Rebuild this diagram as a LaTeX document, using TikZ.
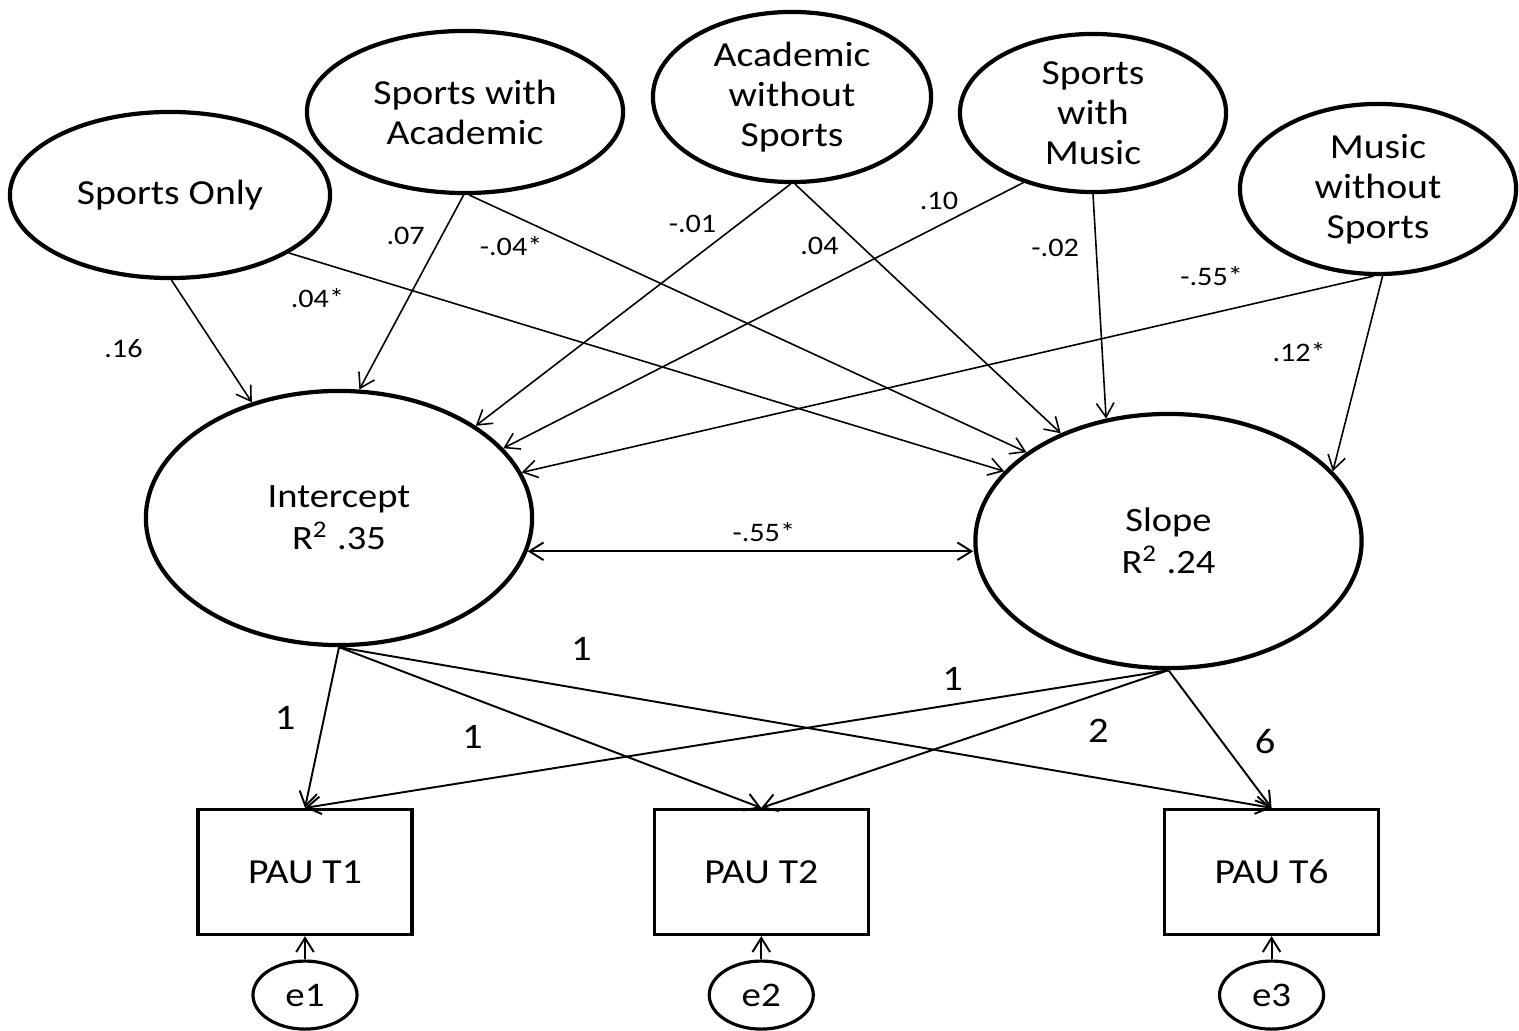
\documentclass[tikz,border=0pt]{standalone}
\usepackage{fontspec}
\setmainfont{Carlito}[FakeStretch=1.13]
\usetikzlibrary{shapes,arrows,arrows.meta,positioning,backgrounds}
\tikzset{%
	latentnode/.style={ellipse, draw, line width=1.2pt, inner sep=0pt, align=center, font=\fontsize{10}{11.4}\selectfont},
	growthnode/.style={ellipse, draw, line width=1.2pt, inner sep=0pt, align=center, minimum width=3.86cm, minimum height=2.54cm, font=\fontsize{9.7}{12}\selectfont},
	observednode/.style={rectangle, draw, line width=.9pt, minimum width=2.14cm, minimum height=1.25cm, font=\fontsize{10}{11.6}\selectfont},
	errornode/.style={ellipse, draw, line width=.9pt, inner sep=0pt, minimum width=1.04cm, minimum height=0.68cm, font=\fontsize{9.8}{11}\selectfont},
	toregress/.style={draw, line width=.45pt,->,>={Straight Barb[length=4pt,width=5pt]}},
	toload/.style={draw, line width=.55pt,->,>={Straight Barb[length=4pt,width=5pt]}},
	tocov/.style={draw, line width=.55pt,<->,>={Straight Barb[length=4pt,width=5pt]}},
	smalllabel/.style={font=\fontsize{7.6}{9}\selectfont},
	covlabel/.style={font=\fontsize{7.6}{9}\selectfont},
	loadlabel/.style={font=\fontsize{10.2}{12}\selectfont}}

\begin{document}
\begin{tikzpicture}[x=0.01cm, y=-0.01cm]
		\useasboundingbox (0,0) rectangle (1519,1031);
		\node[latentnode, minimum width=3.20cm, minimum height=1.66cm] (SO) at (170,195) {Sports Only};
		\node[latentnode, minimum width=3.16cm, minimum height=1.62cm] (SWA) at (465,112) {Sports with\\Academic};
		\node[latentnode, minimum width=2.78cm, minimum height=1.70cm] (AWS) at (792,97) {Academic\\without\\Sports};
		\node[latentnode, minimum width=2.66cm, minimum height=1.58cm] (SWM) at (1093,113) {Sports\\with\\Music};
		\node[latentnode, minimum width=2.76cm, minimum height=1.70cm] (MWS) at (1378,189) {Music\\without\\Sports};
		\node[growthnode] (INT) at (339,518) {Intercept\\ R\textsuperscript{2} .35};
		\node[growthnode] (SLP) [right of=INT, node distance=8.29cm, yshift=-0.23cm] {Slope\\ R\textsuperscript{2} .24};
		\node[observednode] (T1) at (305,872) {PAU T1};
		\node[observednode] (T2) [right of=T1, node distance=4.56cm] {PAU T2};
		\node[observednode] (T6) [right of=T2, node distance=5.10cm] {PAU T6};
		\node[errornode] (E1) [below of=T1, node distance=1.23cm] {e1};
		\node[errornode] (E2) [below of=T2, node distance=1.23cm] {e2};
		\node[errornode] (E3) [below of=T6, node distance=1.23cm] {e3};
		
		\path[toregress] (SO.-89) 	-- node[smalllabel, pos=.56, xshift=-0.93cm] 	{.16} (INT.127);
		\path[toregress] (SO.-26) 	-- node[smalllabel, pos=.04, yshift=-0.36cm] 	{.04*} (SLP.157);
		\path[toregress] (SWA.-91) 	-- node[smalllabel, pos=.21, xshift=-0.36cm] 	{.07} (INT.81);
		\path[toregress] (SWA.-87) 	-- node[smalllabel, pos=.075, yshift=-0.32cm] 	{-.04*} (SLP.148);
		\path[toregress] (AWS.-91) 	-- node[smalllabel, pos=.165, xshift=-0.46cm] 	{-.01} (INT.34);
		\path[toregress] (AWS.-88) 	-- node[smalllabel, pos=.25, xshift=-0.42cm] 	{.04} (SLP.135);
		\path[toregress] (SWM.-135) 	-- node[smalllabel, pos=.07, xshift=-0.48cm] 	{.10} (INT.23);
		\path[toregress] (SWM.-90) 	-- node[smalllabel, pos=.24, xshift=-0.41cm] 	{-.02} (SLP.117);
		\path[toregress] (MWS.-93) 	-- node[smalllabel, pos=.19, yshift=0.37cm] 	{-.55*} (INT.14);
		\path[toregress] (MWS.-87) 	-- node[smalllabel, pos=.39, xshift=-0.64cm] 	{.12*} (SLP.23);
		
		\path[tocov] (INT.-10) 	-- node[covlabel, pos=.53, yshift=0.19cm] 	{-.55*} (INT.-10 -| SLP.west);
		
		\path[toload] (INT.south) 	-- node[loadlabel, pos=.44, xshift=-0.39cm] 	{1} (T1.north);
		\path[toload] (INT.south) 	-- node[loadlabel, pos=.56, xshift=-1.03cm] 	{1} (T2.north);
		\path[toload] (INT.south) 	-- node[loadlabel, pos=.26, yshift=0.40cm] 	{1} (T6.north);
		\path[toload] (SLP.south) 	-- node[loadlabel, pos=.25, yshift=0.26cm] 	{1} (T1.north);
		\path[toload] (SLP.south) 	-- node[loadlabel, pos=.44, xshift=1.09cm] 	{2} (T2.north);
		\path[toload] (SLP.south) 	-- node[loadlabel, pos=.52, xshift=0.43cm] 	{6} (T6.north);
		
		\path[toload] (E1) 	-- (T1);
		\path[toload] (E2) 	-- (T2);
		\path[toload] (E3) 	-- (T6);
	\end{tikzpicture}
\end{document}
